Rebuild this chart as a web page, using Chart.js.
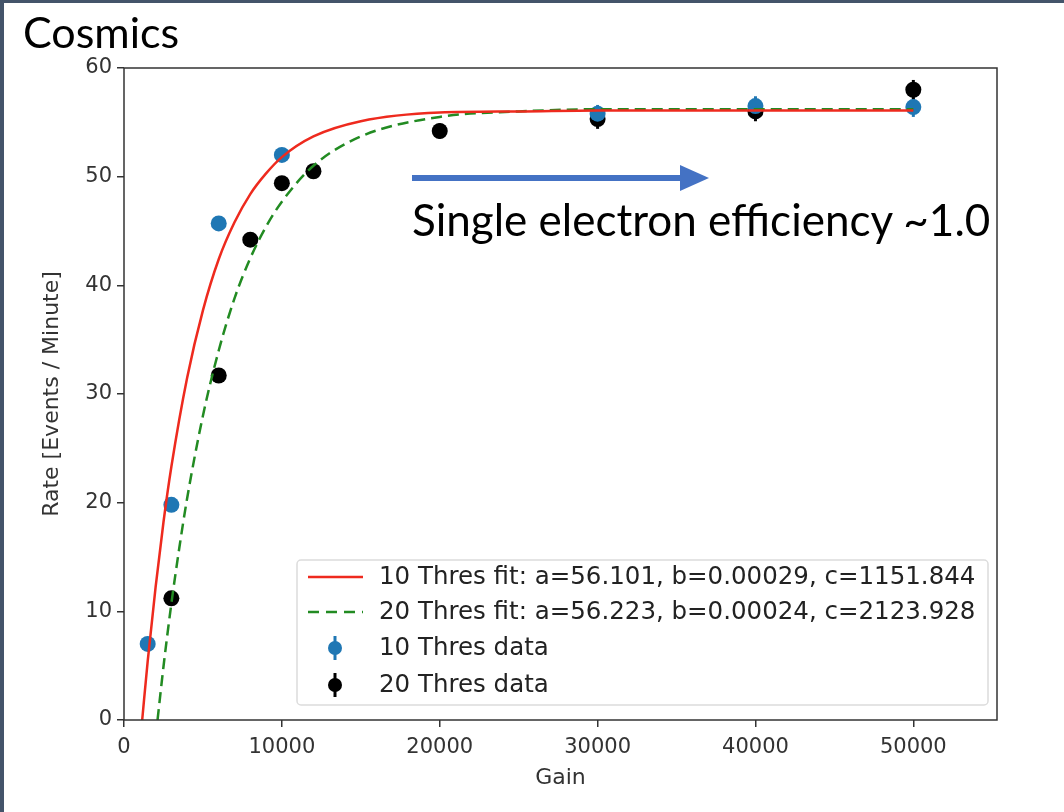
<!DOCTYPE html>
<html>
<head>
<meta charset="utf-8">
<script src="https://cdn.jsdelivr.net/npm/chart.js@4"></script>
<style>
    body { margin: 0; background: #fff; }
    #page { position: relative; width: 1064px; height: 812px; overflow: hidden; background: #fff; }
    #edgeL { position: absolute; left: 0; top: 0; width: 4px; height: 812px; background: #44546a; }
    #edgeT { position: absolute; left: 0; top: 0; width: 1064px; height: 3px; background: #44546a; }
    #title { position: absolute; left: 23px; top: 7px; font-family: Lato, sans-serif; font-size: 43px; line-height: 50px; color: #000; }
    #note { position: absolute; left: 412px; top: 193px; font-family: Lato, sans-serif; font-size: 44px; line-height: 52px; color: #000; white-space: nowrap; }
    #arrow { position: absolute; left: 0; top: 0; }
    #js--chart { position: absolute; left: 0; top: 0; }
</style>
</head>
<body>
<div id="page">
    <canvas id="js--chart" width="1064" height="812"></canvas>
    <div id="edgeL"></div>
    <div id="edgeT"></div>
    <div id="title">Cosmics</div>
    <svg id="arrow" width="1064" height="812">
        <line x1="412" y1="178" x2="684" y2="178" stroke="#4472c4" stroke-width="6"></line>
        <polygon points="680,165 709,178 680,191" fill="#4472c4"></polygon>
    </svg>
    <div id="note">Single electron efficiency ~1.0</div>
</div>
<script>
// meetpunten
const gain10 = [1500, 3000, 6000, 10000, 30000, 40000, 50000];
const rate10 = [7.0, 19.8, 45.7, 52.0, 55.8, 56.5, 56.4];
const err10 = [0.3, 0.4, 0.5, 0.5, 0.8, 0.9, 0.9];

const gain20 = [3000, 6000, 8000, 10000, 12000, 20000, 30000, 40000, 50000];
const rate20 = [11.2, 31.7, 44.2, 49.4, 50.5, 54.2, 55.3, 56.0, 58.0];
const err20 = [0.3, 0.5, 0.5, 0.6, 0.6, 0.7, 0.9, 0.9, 0.9];

const fitGain10 = [1152, 1500, 2000, 2500, 3000, 4000, 5000, 6000, 7000, 8000, 9000, 10000, 12000, 15000, 20000, 25000, 30000, 40000, 50000];
const fitRate10 = [0, 5.4, 12.2, 18.2, 23.3, 31.5, 37.7, 42.4, 45.8, 48.4, 50.3, 51.8, 53.7, 55.1, 55.9, 56.0, 56.1, 56.1, 56.1];

const fitGain20 = [2124, 2500, 3000, 3500, 4000, 5000, 6000, 7000, 8000, 9000, 10000, 12000, 15000, 20000, 25000, 30000, 40000, 50000];
const fitRate20 = [0, 4.9, 10.7, 15.8, 20.4, 28.0, 34.0, 38.8, 42.5, 45.4, 47.7, 51.0, 53.7, 55.5, 56.0, 56.2, 56.2, 56.2];

const legendLabels = [
    "10 Thres fit: a=56.101, b=0.00029, c=1151.844",
    "20 Thres fit: a=56.223, b=0.00024, c=2123.928",
    "10 Thres data",
    "20 Thres data",
];

const xTicks = [0, 10000, 20000, 30000, 40000, 50000];
const yTicks = [0, 10, 20, 30, 40, 50, 60];

function toPoints(xs, ys){
    return xs.map(function(x, i){ return {x: x, y: ys[i]}; });
}

const red = "#ee2a1e";
const green = "#228b22";
const blue = "#1f77b4";
const black = "#000000";

const datasets = [
    {
        label: legendLabels[0],
        data: toPoints(fitGain10, fitRate10),
        showLine: true, borderColor: red, borderWidth: 2.5, pointRadius: 0,
        cubicInterpolationMode: "monotone", order: 0
    },
    {
        label: legendLabels[1],
        data: toPoints(fitGain20, fitRate20),
        showLine: true, borderColor: green, borderWidth: 2.5, borderDash: [11, 6], pointRadius: 0,
        cubicInterpolationMode: "monotone", order: 0
    },
    {
        label: legendLabels[2],
        data: toPoints(gain10, rate10),
        errors: err10,
        pointRadius: 8, pointBackgroundColor: blue, pointBorderWidth: 0, borderColor: blue, order: 1
    },
    {
        label: legendLabels[3],
        data: toPoints(gain20, rate20),
        errors: err20,
        pointRadius: 8, pointBackgroundColor: black, pointBorderWidth: 0, borderColor: black, order: 1
    }
];

const tickFont = {family: "DejaVu Sans", size: 21};
const axisColor = "#333";

// foutbalken, kader en legenda
const extras = {
    id: "extras",
    beforeDatasetsDraw(chart){
        const ctx = chart.ctx;
        const xs = chart.scales.x, ys = chart.scales.y;
        ctx.save();
        chart.data.datasets.forEach(function(ds){
            if (!ds.errors) return;
            ctx.strokeStyle = ds.pointBackgroundColor;
            ctx.lineWidth = 3;
            ds.data.forEach(function(p, i){
                const px = xs.getPixelForValue(p.x);
                ctx.beginPath();
                ctx.moveTo(px, ys.getPixelForValue(p.y - ds.errors[i]));
                ctx.lineTo(px, ys.getPixelForValue(p.y + ds.errors[i]));
                ctx.stroke();
            });
        });
        ctx.restore();
    },
    afterDraw(chart){
        const ctx = chart.ctx;
        const a = chart.chartArea;
        ctx.save();
        // kader
        ctx.strokeStyle = axisColor;
        ctx.lineWidth = 1.5;
        ctx.strokeRect(a.left, a.top, a.right - a.left, a.bottom - a.top);

        // legenda
        const w = 691, h = 145;
        const bx = a.right - 9 - w, by = a.bottom - 15 - h;
        ctx.fillStyle = "rgba(255,255,255,0.85)";
        ctx.strokeStyle = "#dcdcdc";
        ctx.lineWidth = 1.5;
        ctx.beginPath();
        ctx.roundRect(bx, by, w, h, 4);
        ctx.fill();
        ctx.stroke();

        const rows = [17, 52, 88, 125];
        ctx.font = '24.5px "DejaVu Sans"';
        ctx.textBaseline = "middle";
        chart.data.datasets.forEach(function(ds, i){
            const cy = by + rows[i];
            if (ds.showLine){
                ctx.strokeStyle = ds.borderColor;
                ctx.lineWidth = 2.5;
                ctx.setLineDash(ds.borderDash ? [11, 7] : []);
                ctx.beginPath();
                ctx.moveTo(bx + 11, cy);
                ctx.lineTo(bx + 66, cy);
                ctx.stroke();
                ctx.setLineDash([]);
            } else {
                ctx.strokeStyle = ds.pointBackgroundColor;
                ctx.fillStyle = ds.pointBackgroundColor;
                ctx.lineWidth = 3;
                ctx.beginPath();
                ctx.moveTo(bx + 38, cy - 12);
                ctx.lineTo(bx + 38, cy + 12);
                ctx.stroke();
                ctx.beginPath();
                ctx.arc(bx + 38, cy, 7, 0, Math.PI * 2);
                ctx.fill();
            }
            ctx.fillStyle = "#222";
            ctx.fillText(ds.label, bx + 82, cy + 1);
        });
        ctx.restore();
    }
};

const config = {
    type: "scatter",
    data: {datasets: datasets},
    options: {
        responsive: false,
        animation: false,
        layout: {padding: {top: 68, right: 67, left: 39, bottom: 21}},
        plugins: {legend: {display: false}, tooltip: {enabled: false}},
        scales: {
            x: {
                type: "linear", min: 0, max: 55300,
                afterFit(scale){ scale.height = 71; },
                afterBuildTicks(scale){ scale.ticks = xTicks.map(function(v){ return {value: v}; }); },
                ticks: {
                    font: tickFont, color: axisColor, padding: 8, maxRotation: 0, includeBounds: false,
                    callback: function(v){ return String(v); }
                },
                grid: {drawOnChartArea: false, drawTicks: true, tickLength: 7, color: axisColor, lineWidth: 1.5},
                border: {display: false},
                title: {display: true, text: "Gain", font: {family: "DejaVu Sans", size: 22}, color: axisColor, padding: 0}
            },
            y: {
                min: 0, max: 60,
                afterFit(scale){ scale.width = 85; },
                afterBuildTicks(scale){ scale.ticks = yTicks.map(function(v){ return {value: v}; }); },
                ticks: {font: tickFont, color: axisColor, padding: 5},
                grid: {drawOnChartArea: false, drawTicks: true, tickLength: 7, color: axisColor, lineWidth: 1.5},
                border: {display: false},
                title: {display: true, text: "Rate [Events / Minute]", font: {family: "DejaVu Sans", size: 22}, color: axisColor, padding: 0}
            }
        }
    },
    plugins: [extras]
};

new Chart(document.getElementById("js--chart"), config);
</script>
</body>
</html>
